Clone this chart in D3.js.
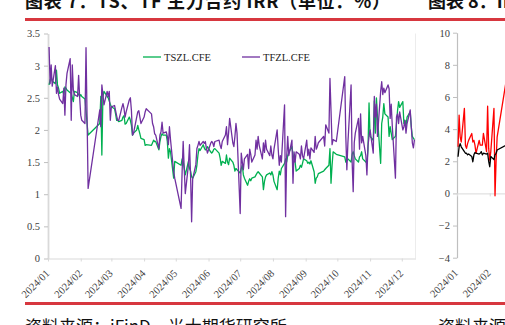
<!DOCTYPE html>
<html>
<head>
<meta charset="utf-8">
<script src="https://cdn.jsdelivr.net/npm/d3@7"></script>
<style>
  html, body { margin: 0; padding: 0; background: #fff; overflow: hidden; }
  svg { display: block; }
</style>
</head>
<body>
<svg id="chart" width="505" height="325"></svg>
<script>
// ---- exchange calendar (2024 non-trading weekdays) ----
const holidays = [
  "2024-01-01",
  "2024-02-09", "2024-02-12", "2024-02-13", "2024-02-14", "2024-02-15", "2024-02-16",
  "2024-04-04", "2024-04-05",
  "2024-05-01", "2024-05-02", "2024-05-03",
  "2024-06-10",
  "2024-09-16", "2024-09-17",
  "2024-10-01", "2024-10-02", "2024-10-03", "2024-10-04", "2024-10-07"
];
const firstDay = "2024-01-02";
const lastDay = "2024-12-13";

// ---- 图表7: daily IRR (%) of the main contracts, Jan 2 – Dec 13 ----
const tsValues = [
  // Jan
  2.70, 2.78, 2.81, 2.76, 2.72, 2.93, 2.70, 2.65, 2.57, 2.60, 2.55, 2.67, 2.65, 2.62, 2.58, 2.57, 2.50, 2.44, 2.60, 2.58, 2.55, 2.52,
  // Feb
  2.55, 2.52, 2.48, 2.30, 2.10, 1.92, 2.10, 2.52, 1.61, 2.52, 2.60, 2.52, 2.50, 2.45, 2.40,
  // Mar
  2.36, 2.33, 2.25, 2.15, 2.15, 2.13, 2.15, 2.20, 2.22, 2.09, 2.10, 2.20, 2.15, 2.07, 1.92, 1.95, 2.00, 2.07, 2.00, 1.94, 1.87,
  // Apr
  1.85, 1.76, 1.77, 1.76, 1.80, 1.84, 1.82, 1.82, 1.69, 1.82, 1.90, 1.94, 1.92, 1.92, 1.82, 1.56, 1.71, 1.66, 1.25, 1.51,
  // May
  1.45, 1.55, 1.51, 1.40, 1.30, 1.51, 1.40, 1.36, 1.27, 1.25, 1.35, 1.45, 1.61, 1.71, 1.68, 1.77, 1.72, 1.69, 1.70, 1.74,
  // Jun
  1.66, 1.64, 1.66, 1.70, 1.71, 1.64, 1.56, 1.45, 1.51, 1.48, 1.61, 1.50, 1.46, 1.56, 1.50, 1.45, 1.36, 1.40, 1.38,
  // Jul
  1.33, 1.40, 1.45, 1.30, 1.25, 1.14, 1.20, 1.24, 1.21, 1.25, 1.27, 1.30, 1.33, 1.35, 1.33, 1.27, 1.07, 1.20, 1.27, 1.30, 1.33, 1.30, 1.35,
  // Aug
  1.30, 1.20, 1.07, 1.25, 1.36, 1.30, 1.40, 1.48, 1.55, 1.50, 1.60, 1.65, 1.74, 1.62, 1.55, 1.50, 1.36, 1.40, 1.45, 1.42, 1.48, 1.55,
  // Sep
  1.52, 1.48, 1.50, 1.47, 1.52, 1.35, 1.17, 1.25, 1.27, 1.32, 1.36, 1.38, 1.40, 1.45, 1.71, 1.17, 1.45, 1.66, 1.62,
  // Oct
  1.58, 1.50, 1.52, 1.55, 1.50, 1.62, 1.66, 1.60, 1.55, 1.50, 1.58, 1.60, 1.66, 1.55, 1.50, 1.48, 1.70, 2.42,
  // Nov
  1.90, 1.84, 2.45, 1.95, 2.50, 2.20, 1.48, 2.10, 2.20, 2.41, 2.25, 2.20, 1.90, 2.05, 1.95, 1.85, 1.90, 2.10, 2.30, 2.44, 2.35,
  // Dec
  2.44, 2.10, 2.15, 2.05, 2.20, 2.28, 2.05, 1.90, 1.87, 1.85
];
const tfValues = [
  // Jan
  3.29, 2.72, 3.01, 2.68, 3.00, 2.57, 2.67, 2.55, 2.48, 2.41, 2.65, 2.23, 2.70, 2.88, 3.11, 2.15, 3.01, 2.62, 2.55, 2.52, 2.85, 2.50,
  // Feb
  2.23, 2.15, 2.10, 3.28, 2.20, 1.09, 2.31, 2.05, 2.70, 2.55, 2.39, 2.60, 2.52, 2.60, 2.15,
  // Mar
  2.36, 2.38, 2.30, 2.22, 2.15, 2.15, 2.35, 2.41, 2.33, 2.20, 2.28, 2.47, 2.50, 2.30, 1.92, 1.95, 2.20, 2.28, 2.30, 2.20, 2.10,
  // Apr
  2.20, 2.28, 2.33, 2.25, 2.10, 2.05, 1.94, 1.92, 1.71, 1.92, 1.97, 2.12, 1.95, 1.97, 1.90, 1.77, 2.05, 1.85, 1.35, 1.25,
  // May
  0.78, 1.35, 1.82, 1.40, 1.01, 1.46, 1.77, 1.30, 0.57, 1.24, 1.46, 1.71, 1.76, 1.82, 1.76, 1.82, 1.79, 1.82, 1.71, 1.64,
  // Jun
  1.79, 1.82, 1.80, 1.74, 1.82, 1.84, 1.76, 1.71, 1.82, 1.92, 2.05, 1.77, 1.95, 2.18, 1.80, 1.74, 1.90, 2.10, 1.95,
  // Jul
  0.70, 1.64, 1.50, 1.38, 1.55, 1.62, 1.40, 1.70, 1.62, 1.50, 1.61, 1.84, 1.70, 1.90, 1.76, 1.55, 1.80, 1.65, 1.84, 1.70, 1.60, 1.75, 1.61,
  // Aug
  1.55, 1.70, 2.00, 1.70, 1.45, 1.60, 1.50, 2.39, 0.65, 1.58, 1.90, 1.60, 1.84, 1.17, 1.66, 1.50, 1.66, 1.62, 1.55, 1.75, 1.60, 1.55,
  // Sep
  1.84, 1.60, 1.70, 1.55, 1.72, 1.65, 1.90, 1.70, 1.74, 1.80, 1.90, 1.75, 2.08, 1.95, 2.80, 2.30, 1.77, 1.85, 1.82,
  // Oct
  2.83, 1.90, 1.38, 1.80, 2.70, 1.50, 1.04, 1.80, 1.95, 2.18, 1.70, 2.25, 1.80, 1.90, 1.60, 1.30, 1.75, 1.90,
  // Nov
  2.00, 1.64, 2.52, 2.20, 2.40, 1.90, 2.60, 2.75, 2.55, 2.65, 2.58, 2.70, 2.64, 2.18, 2.40, 2.07, 1.25, 2.20, 2.25, 2.10, 2.28,
  // Dec
  2.00, 2.05, 2.15, 1.95, 2.10, 2.31, 2.05, 1.80, 1.72, 1.85
];
const seriesNames = ["TSZL.CFE", "TFZL.CFE"];
const yTicksLeft = [0, 0.5, 1, 1.5, 2, 2.5, 3, 3.5];

// ---- 图表8 (right panel), first trading days of the year ----
const redValues = [
  2.90, 4.87, 3.52, 3.20, 5.29, 3.00, 2.80, 3.10, 3.30, 3.73, 3.20, 3.30, 3.00, 2.50, 3.30, 3.00, 3.00, 3.00, 3.73, 2.60, 5.43, 2.80,
  2.07, 2.60, 5.29, -0.15, 2.00, 3.50, 8.00
];
const blackValues = [
  2.28, 2.90, 3.10, 2.90, 2.60, 2.50, 2.50, 2.40, 2.45, 2.30, 1.97, 2.40, 2.55, 2.50, 2.45, 2.50, 2.60, 2.40, 2.50, 2.45, 2.50, 2.00,
  1.66, 2.30, 2.10, 2.40, 2.50, 2.70, 3.10
];
const yTicksRight = [-4, -2, 0, 2, 4, 6, 8, 10];

const titleLeft = "图表 7：TS、TF 主力合约 IRR（单位：%）";
const titleRight = "图表 8：IRR（单位：%）";
const sourceText = "资料来源：iFinD，光大期货研究所";

// ---- build the trading-day list ----
const fmtKey = d3.timeFormat("%Y-%m-%d");
const parseKey = d3.timeParse("%Y-%m-%d");
const holidaySet = new Set(holidays);
const tradingDays = d3.timeDay.range(parseKey(firstDay), d3.timeDay.offset(parseKey(lastDay), 1))
  .filter(d => d.getDay() !== 0 && d.getDay() !== 6 && !holidaySet.has(fmtKey(d)));

const tsData = tsValues.map((v, i) => ({ date: tradingDays[i], v }));
const tfData = tfValues.map((v, i) => ({ date: tradingDays[i], v }));
const redData = redValues.map((v, i) => ({ date: tradingDays[i], v }));
const blackData = blackValues.map((v, i) => ({ date: tradingDays[i], v }));

const svg = d3.select("#chart");
const serif = "'Liberation Serif', 'Times New Roman', serif";
const cjk = "'Noto Sans CJK SC', 'Noto Sans', sans-serif";
const axisGrey = "#d9d9d9";
const labelColor = "#404040";
const ruleRed = "#d7373f";

// ---- headers, rules and sources ----
svg.append("text").attr("x", 25).attr("y", 8)
  .attr("font-family", cjk).attr("font-size", 18).attr("font-weight", 700)
  .attr("fill", "#111").attr("textLength", 365).attr("lengthAdjust", "spacing")
  .text(titleLeft);
svg.append("text").attr("x", 428).attr("y", 8)
  .attr("font-family", cjk).attr("font-size", 18).attr("font-weight", 700)
  .attr("fill", "#111").text(titleRight);
svg.append("rect").attr("x", 25).attr("y", 18).attr("width", 480).attr("height", 3).attr("fill", ruleRed);
svg.append("rect").attr("x", 25).attr("y", 302).attr("width", 480).attr("height", 3).attr("fill", ruleRed);
svg.append("text").attr("x", 25).attr("y", 333)
  .attr("font-family", cjk).attr("font-size", 17).attr("fill", "#111").text(sourceText);
svg.append("text").attr("x", 438).attr("y", 333)
  .attr("font-family", cjk).attr("font-size", 17).attr("fill", "#111").text(sourceText);

// ---- left chart ----
const x = d3.scaleTime().domain([new Date(2024, 0, 1), new Date(2024, 11, 14)]).range([48, 415.5]);
const y = d3.scaleLinear().domain([0, 3.5]).range([258.5, 33.5]);

// plot-area right edge
svg.append("line").attr("x1", 415.5).attr("x2", 415.5).attr("y1", 33.5).attr("y2", 258.5)
  .attr("stroke", "#ececec").attr("stroke-width", 1);

const gx = svg.append("g").attr("transform", "translate(0,258.5)")
  .call(d3.axisBottom(x).ticks(d3.timeMonth.every(1)).tickSize(3).tickSizeOuter(0)
    .tickFormat(d3.timeFormat("%Y/%m")));
gx.select(".domain").attr("stroke", axisGrey).attr("stroke-width", 1.2);
gx.selectAll(".tick line").attr("stroke", axisGrey);
gx.selectAll(".tick text")
  .attr("font-family", serif).attr("font-size", 10.5).attr("fill", labelColor)
  .attr("x", 0).attr("y", 0).attr("dy", "0.35em")
  .attr("text-anchor", "end")
  .attr("transform", "translate(-1,13) rotate(-45)");

const gy = svg.append("g").attr("transform", "translate(48,0)")
  .call(d3.axisLeft(y).tickValues(yTicksLeft).tickSize(4).tickSizeOuter(0).tickFormat(d => String(d)));
gy.select(".domain").attr("stroke", axisGrey).attr("stroke-width", 1.8);
gy.selectAll(".tick line").attr("stroke", "#bfbfbf");
gy.selectAll(".tick text").attr("font-family", serif).attr("font-size", 10.5).attr("fill", labelColor).attr("x", -8);

const lineL = d3.line().x(d => x(d.date)).y(d => y(d.v));
svg.append("path").datum(tsData).attr("d", lineL)
  .attr("fill", "none").attr("stroke", "#00b050").attr("stroke-width", 1.3).attr("stroke-linejoin", "round");
svg.append("path").datum(tfData).attr("d", lineL)
  .attr("fill", "none").attr("stroke", "#7030a0").attr("stroke-width", 1.3).attr("stroke-linejoin", "round");

// legend
const legendItems = [
  { name: seriesNames[0], color: "#00b050", x: 143 },
  { name: seriesNames[1], color: "#7030a0", x: 242 }
];
const lg = svg.append("g");
legendItems.forEach(it => {
  lg.append("line").attr("x1", it.x).attr("x2", it.x + 18).attr("y1", 57).attr("y2", 57)
    .attr("stroke", it.color).attr("stroke-width", 1.3);
  lg.append("text").attr("x", it.x + 21).attr("y", 57).attr("dy", "0.35em")
    .attr("font-family", serif).attr("font-size", 10.5).attr("fill", "#222").text(it.name);
});

// ---- right chart (partially in view) ----
const x2 = d3.scaleTime().domain([new Date(2024, 0, 1), new Date(2024, 11, 14)]).range([457, 457 + 367.5]);
const y2 = d3.scaleLinear().domain([-4, 10]).range([257.7, 32.7]);

const gy2 = svg.append("g").attr("transform", "translate(457,0)")
  .call(d3.axisLeft(y2).tickValues(yTicksRight).tickSize(4).tickSizeOuter(0).tickFormat(d3.format("d")));
gy2.select(".domain").attr("stroke", "#bfbfbf").attr("stroke-width", 1.2);
gy2.selectAll(".tick line").attr("stroke", "#bfbfbf");
gy2.selectAll(".tick text").attr("font-family", serif).attr("font-size", 10.5).attr("fill", labelColor).attr("x", -7);

const gx2 = svg.append("g").attr("transform", `translate(0,${y2(0)})`)
  .call(d3.axisBottom(x2).ticks(d3.timeMonth.every(1)).tickSize(3).tickSizeOuter(0).tickFormat(""));
gx2.select(".domain").attr("stroke", axisGrey).attr("stroke-width", 1);
gx2.selectAll(".tick line").attr("stroke", axisGrey);

svg.append("g").selectAll("text")
  .data(x2.ticks(d3.timeMonth.every(1)).filter(d => x2(d) < 520))
  .join("text")
  .attr("font-family", serif).attr("font-size", 10.5).attr("fill", labelColor)
  .attr("dy", "0.35em").attr("text-anchor", "end")
  .attr("transform", d => `translate(${x2(d) - 1},271) rotate(-45)`)
  .text(d3.timeFormat("%Y/%m"));

const lineR = d3.line().x(d => x2(d.date)).y(d => y2(d.v));
svg.append("path").datum(redData).attr("d", lineR)
  .attr("fill", "none").attr("stroke", "#ff0000").attr("stroke-width", 1.3).attr("stroke-linejoin", "round");
svg.append("path").datum(blackData).attr("d", lineR)
  .attr("fill", "none").attr("stroke", "#000000").attr("stroke-width", 1.3).attr("stroke-linejoin", "round");
</script>
</body>
</html>
